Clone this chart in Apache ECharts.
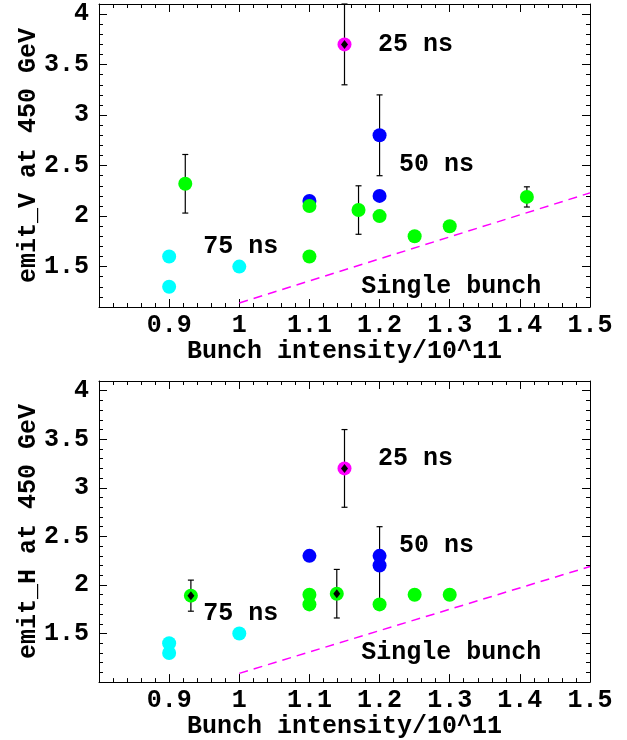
<!DOCTYPE html>
<html><head><meta charset="utf-8">
<script src="https://cdn.jsdelivr.net/npm/echarts@6/dist/echarts.min.js"></script>
<style>html,body{margin:0;padding:0;background:#fff}#c{width:627px;height:740px}</style>
</head><body><div id="c"></div>
<script>
// ---- Data: top panel (emit_V) ----
const cyanV_x = [0.9, 0.9, 1.0];
const cyanV_y = [1.6, 1.3, 1.5];
const blueV_x = [1.1, 1.2, 1.2];
const blueV_y = [2.15, 2.8, 2.2];
const greenV_x = [0.923, 1.1, 1.1, 1.17, 1.2, 1.25, 1.3, 1.41];
const greenV_y = [2.32, 2.1, 1.6, 2.06, 2.0, 1.8, 1.9, 2.19];
const magentaV_x = [1.15];
const magentaV_y = [3.7];
const errV_x = [1.15, 1.2, 0.923, 1.17, 1.41];
const errV_lo = [3.3, 2.4, 2.03, 1.82, 2.09];
const errV_hi = [4.1, 3.2, 2.61, 2.30, 2.29];
const diamondV_x = [1.15];
const diamondV_y = [3.7];
const singleV_x = [1.0, 1.5];
const singleV_y = [1.14, 2.23];

// ---- Data: bottom panel (emit_H) ----
const cyanH_x = [0.9, 0.9, 1.0];
const cyanH_y = [1.4, 1.3, 1.5];
const blueH_x = [1.1, 1.2, 1.2];
const blueH_y = [2.3, 2.3, 2.2];
const greenH_x = [0.931, 1.1, 1.1, 1.139, 1.2, 1.25, 1.3];
const greenH_y = [1.89, 1.9, 1.8, 1.91, 1.8, 1.9, 1.9];
const magentaH_x = [1.15];
const magentaH_y = [3.2];
const errH_x = [1.15, 0.931, 1.139, 1.2];
const errH_lo = [2.8, 1.73, 1.66, 1.8];
const errH_hi = [3.6, 2.05, 2.16, 2.6];
const diamondH_x = [1.15, 0.931, 1.139];
const diamondH_y = [3.2, 1.89, 1.91];
const singleH_x = [1.0, 1.5];
const singleH_y = [1.09, 2.19];

// ---- Annotations ----
const annoText = ['25 ns', '50 ns', '75 ns', 'Single bunch'];
const annoV_x = [1.197, 1.227, 0.948, 1.173];
const annoV_y = [3.70, 2.51, 1.70, 1.30];
const annoH_x = [1.197, 1.227, 0.948, 1.173];
const annoH_y = [3.30, 2.40, 1.70, 1.30];

// ---- Axes ----
const xMin = 0.8, xMax = 1.5, xStep = 0.1;
const yMaxAll = 4.1;
const yMinV = 1.1, yMinH = 1.0;
const yMajorTicks = [1.5, 2, 2.5, 3, 3.5, 4];
const yTitleV = 'emit_V at 450 GeV';
const yTitleH = 'emit_H at 450 GeV';
const xTitle = 'Bunch intensity/10^11';

const FONT = 'Liberation Mono';
const FS = 25;
const txt = {fontFamily: FONT, fontWeight: 'bold', fontSize: FS, color: '#000'};
const zip = (a, b) => a.map((v, i) => [v, b[i]]);

const grids = [
  {left: 99, right: 37, top: 4, height: 303},
  {left: 99, right: 37, top: 381, height: 303}
];
const xAxes = [], yAxes = [], series = [];

function buildPanel(gi, yMin, yTitle, d) {
  const line = {show: true, lineStyle: {color: '#000', width: 1}};
  xAxes.push({type: 'value', gridIndex: gi, position: 'bottom', min: xMin, max: xMax, interval: xStep,
    axisLine: line, splitLine: {show: false},
    axisTick: {show: true, inside: true, length: 8, lineStyle: {color: '#000'}},
    minorTick: {show: true, splitNumber: 5, length: 4, lineStyle: {color: '#000'}},
    axisLabel: Object.assign({margin: 6, formatter: v => Math.abs(v - xMin) < 1e-9 ? '' : String(+v.toFixed(1))}, txt),
    name: xTitle, nameLocation: 'middle', nameGap: 30, nameTextStyle: txt});
  xAxes.push({type: 'value', gridIndex: gi, position: 'top', min: xMin, max: xMax, interval: xStep,
    axisLine: line, splitLine: {show: false},
    axisTick: {show: true, inside: true, length: 8, lineStyle: {color: '#000'}},
    minorTick: {show: true, splitNumber: 5, length: 4, lineStyle: {color: '#000'}},
    axisLabel: {show: false}});
  yAxes.push({type: 'value', gridIndex: gi, position: 'left', min: yMin, max: yMaxAll, interval: 0.1,
    axisLine: line, splitLine: {show: false},
    axisTick: {show: true, inside: true, length: 4, lineStyle: {color: '#000'}},
    axisLabel: {show: false},
    name: yTitle, nameLocation: 'middle', nameGap: 58, nameRotate: 90, nameTextStyle: txt});
  yAxes.push({type: 'value', gridIndex: gi, position: 'left', min: yMin, max: yMaxAll,
    axisLine: {show: false}, splitLine: {show: false},
    axisTick: {show: true, inside: true, length: 8, customValues: yMajorTicks, lineStyle: {color: '#000'}},
    axisLabel: Object.assign({margin: 10, customValues: yMajorTicks}, txt)});
  yAxes.push({type: 'value', gridIndex: gi, position: 'right', min: yMin, max: yMaxAll, interval: 0.1,
    axisLine: line, splitLine: {show: false},
    axisTick: {show: true, inside: true, length: 4, lineStyle: {color: '#000'}},
    axisLabel: {show: false}});
  yAxes.push({type: 'value', gridIndex: gi, position: 'right', min: yMin, max: yMaxAll,
    axisLine: {show: false}, splitLine: {show: false},
    axisTick: {show: true, inside: true, length: 8, customValues: yMajorTicks, lineStyle: {color: '#000'}},
    axisLabel: {show: false}});

  const xi = gi * 2, yi = gi * 4;
  const base = {xAxisIndex: xi, yAxisIndex: yi, silent: true};
  series.push(Object.assign({type: 'line', data: d.single, symbol: 'none',
    lineStyle: {color: '#ff00ff', width: 1.5, type: [9, 6]}, z: 1}, base));
  series.push(Object.assign({type: 'custom', data: d.err, z: 2,
    renderItem: (params, api) => {
      const x = api.value(0);
      const p1 = api.coord([x, api.value(1)]);
      const p2 = api.coord([x, api.value(2)]);
      const w = 3;
      const st = {stroke: '#000', lineWidth: 1.2};
      return {type: 'group', children: [
        {type: 'line', shape: {x1: p1[0], y1: p1[1], x2: p2[0], y2: p2[1]}, style: st},
        {type: 'line', shape: {x1: p1[0] - w, y1: p1[1], x2: p1[0] + w, y2: p1[1]}, style: st},
        {type: 'line', shape: {x1: p2[0] - w, y1: p2[1], x2: p2[0] + w, y2: p2[1]}, style: st}
      ]};
    }}, base));
  const dot = (data, color) => Object.assign({type: 'scatter', data, symbol: 'circle', symbolSize: 14,
    itemStyle: {color, opacity: 1}, z: 3}, base);
  series.push(dot(d.cyan, '#00ffff'));
  series.push(dot(d.blue, '#0000ff'));
  series.push(dot(d.green, '#00ff00'));
  series.push(dot(d.magenta, '#ff00ff'));
  series.push(Object.assign({type: 'scatter', data: d.diamond, symbol: 'diamond', symbolSize: [7, 9],
    itemStyle: {color: '#000', opacity: 1}, z: 4}, base));
  series.push(Object.assign({type: 'scatter', data: d.anno, symbolSize: 1, z: 5,
    itemStyle: {color: '#fff', opacity: 1},
    label: Object.assign({show: true, position: 'right', distance: 0, opacity: 1,
      formatter: p => p.value[2]}, txt)}, base));
}

buildPanel(0, yMinV, yTitleV, {
  single: zip(singleV_x, singleV_y),
  err: errV_x.map((x, i) => [x, errV_lo[i], errV_hi[i]]),
  cyan: zip(cyanV_x, cyanV_y), blue: zip(blueV_x, blueV_y), green: zip(greenV_x, greenV_y),
  magenta: zip(magentaV_x, magentaV_y), diamond: zip(diamondV_x, diamondV_y),
  anno: annoText.map((t, i) => [annoV_x[i], annoV_y[i], t])
});
buildPanel(1, yMinH, yTitleH, {
  single: zip(singleH_x, singleH_y),
  err: errH_x.map((x, i) => [x, errH_lo[i], errH_hi[i]]),
  cyan: zip(cyanH_x, cyanH_y), blue: zip(blueH_x, blueH_y), green: zip(greenH_x, greenH_y),
  magenta: zip(magentaH_x, magentaH_y), diamond: zip(diamondH_x, diamondH_y),
  anno: annoText.map((t, i) => [annoH_x[i], annoH_y[i], t])
});

const chart = echarts.init(document.getElementById('c'), null, {renderer: 'canvas'});
chart.setOption({animation: false, backgroundColor: '#fff', grid: grids, xAxis: xAxes, yAxis: yAxes, series});
</script>
</body></html>
